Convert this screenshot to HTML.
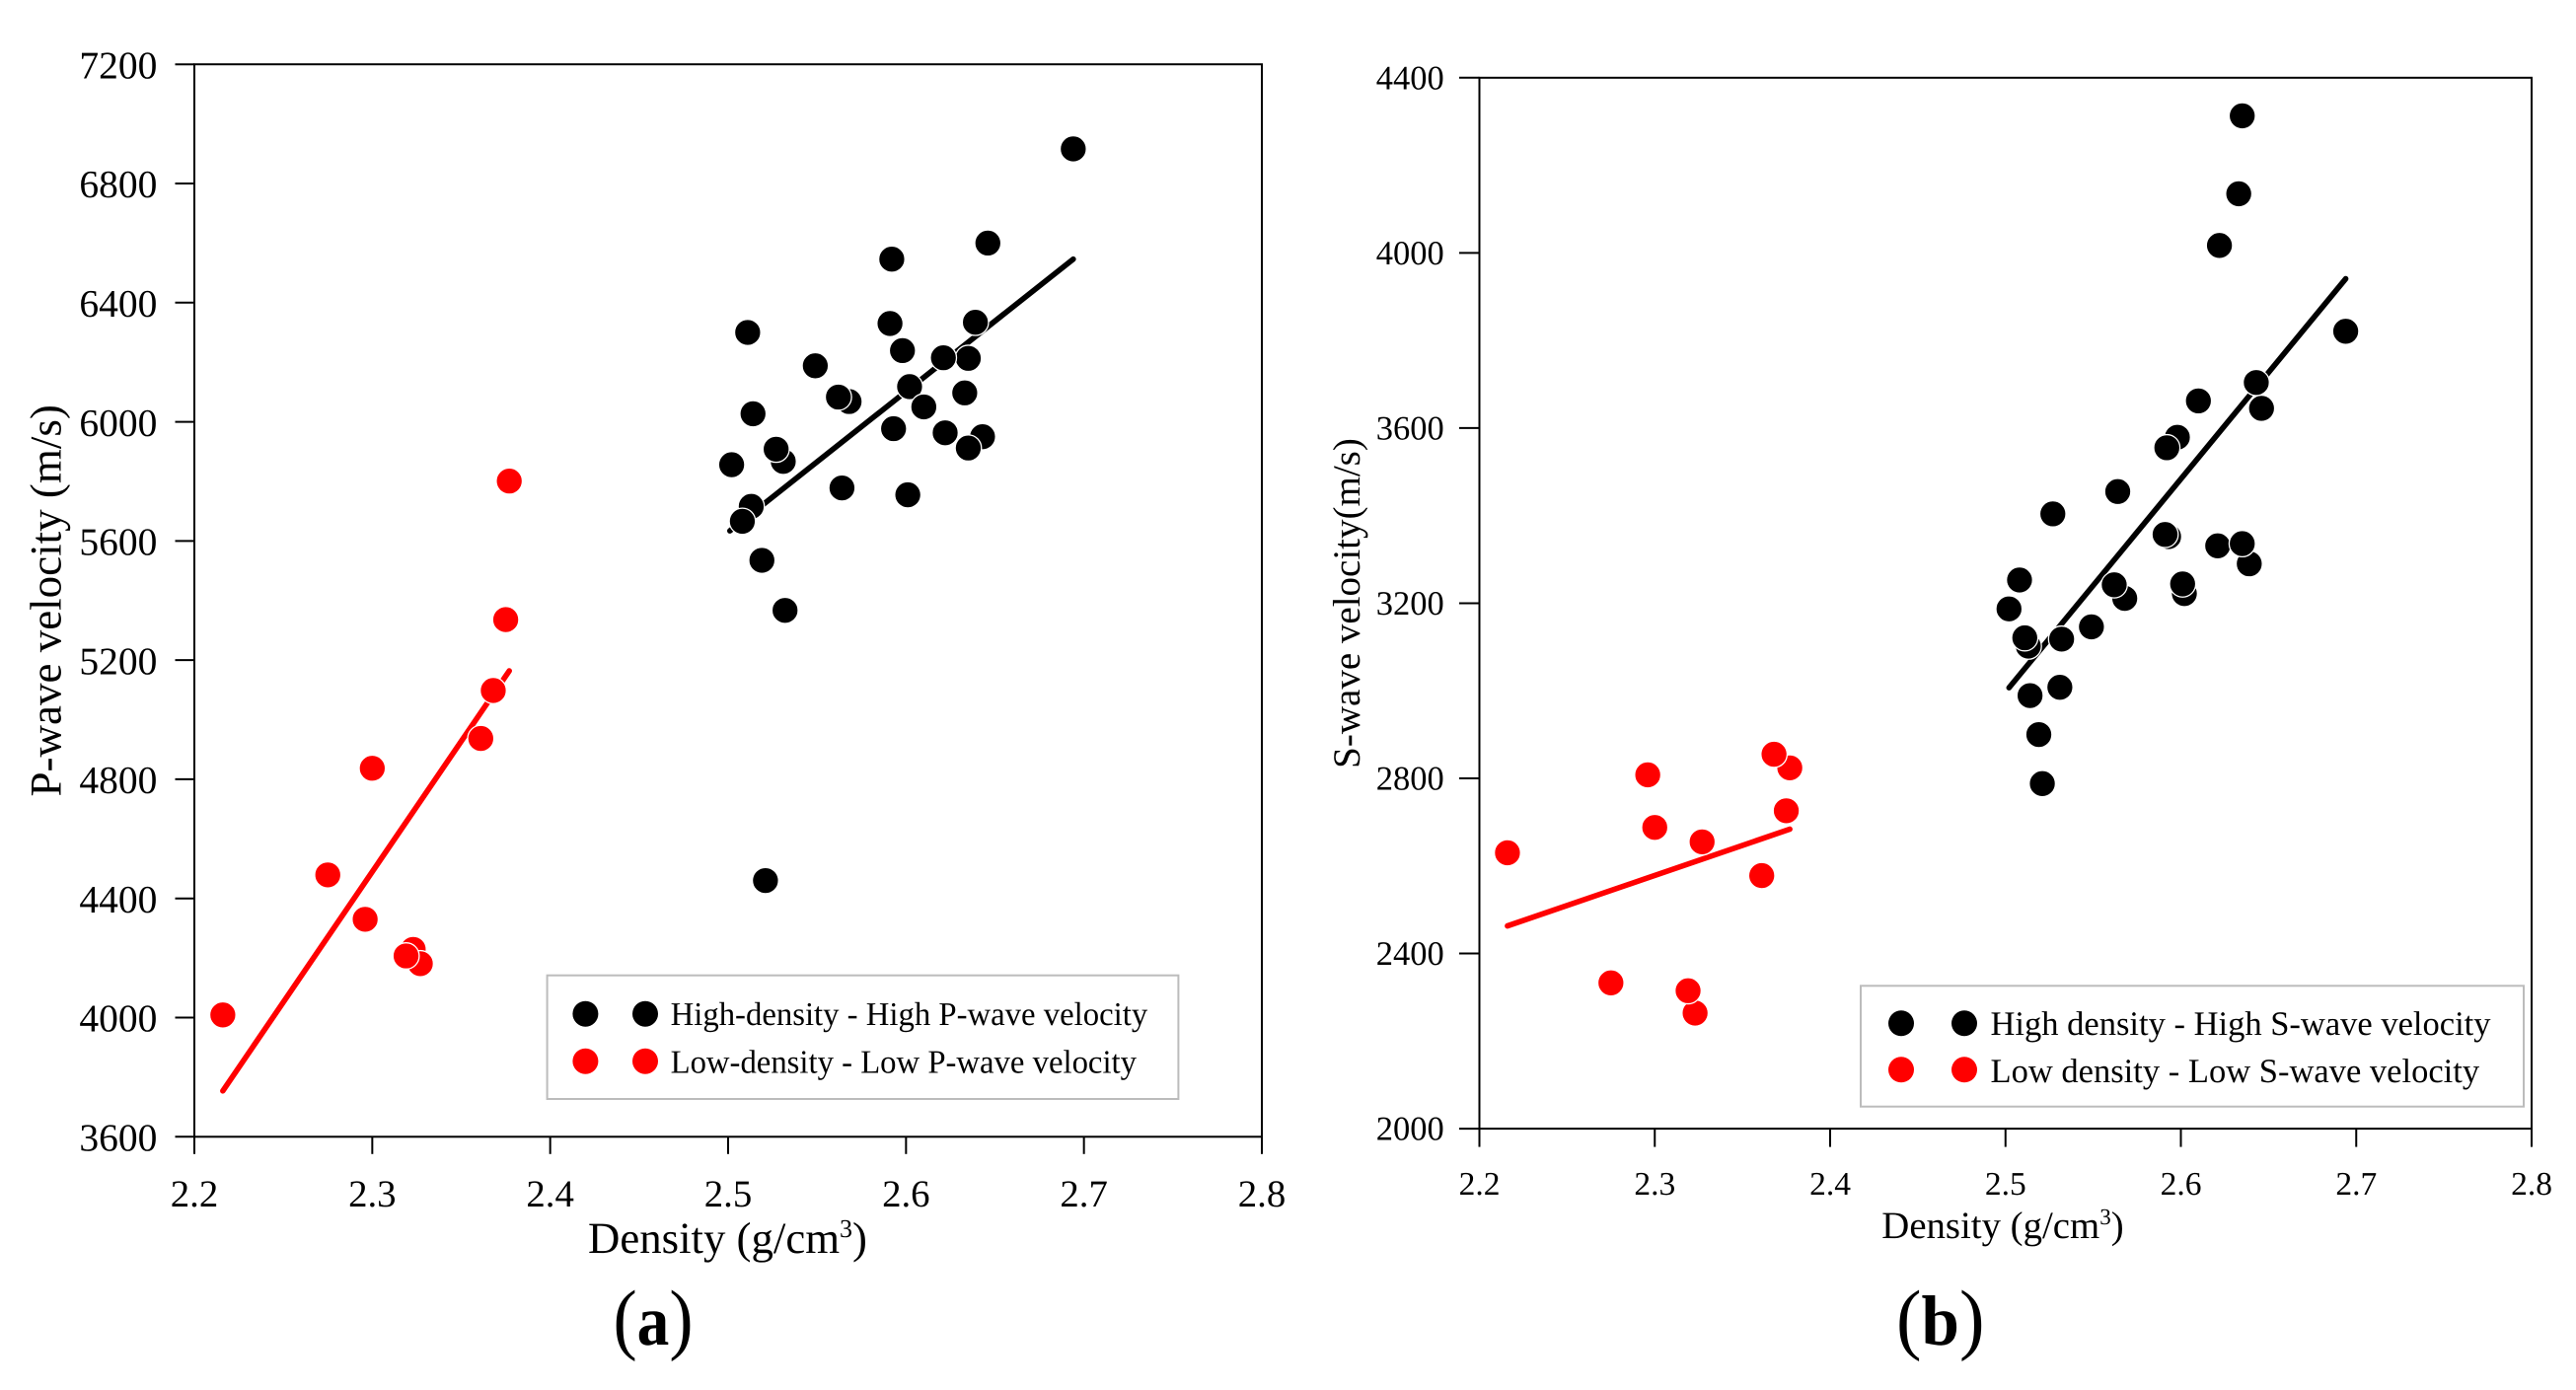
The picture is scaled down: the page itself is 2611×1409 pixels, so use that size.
<!DOCTYPE html>
<html lang="en">
<head>
<meta charset="utf-8">
<title>Density vs P-wave and S-wave velocity</title>
<style>
html,body{margin:0;padding:0;background:#fff;width:2611px;height:1409px;overflow:hidden}
svg{display:block;font-family:"Liberation Serif","Times New Roman",serif;text-rendering:geometricPrecision}
text{fill:#000}
</style>
</head>
<body>
<svg id="figure" xmlns="http://www.w3.org/2000/svg" width="2611" height="1409" viewBox="0 0 2611 1409">
  <rect x="0" y="0" width="2611" height="1409" fill="#fff"/>

  <g id="panel-a">
    <g id="panel-a-marks"></g>
    <text transform="translate(61.6 608.8) rotate(-90)" text-anchor="middle" font-size="45">P-wave velocity (m/s)</text>
    <text x="596" y="1270" font-size="44.8">Density (g/cm<tspan font-size="26" dy="-16">3</tspan><tspan dy="16">)</tspan></text>
    <g>
      <rect x="554.6" y="988.7" width="639.8" height="125.3" fill="#fff" stroke="#bcbcbc" stroke-width="2"/>
      <circle cx="593.4" cy="1027.7" r="13" fill="#000"/>
      <circle cx="654" cy="1027.7" r="13" fill="#000"/>
      <circle cx="593.4" cy="1075.7" r="13" fill="#f00"/>
      <circle cx="654" cy="1075.7" r="13" fill="#f00"/>
      <text x="679.6" y="1039" font-size="33.5" textLength="483.6" lengthAdjust="spacingAndGlyphs">High-density - High P-wave velocity</text>
      <text x="679.6" y="1087.7" font-size="33.5" textLength="472.4" lengthAdjust="spacingAndGlyphs">Low-density - Low P-wave velocity</text>
    </g>
    <text x="621.5" y="1363" font-size="80" textLength="81" lengthAdjust="spacingAndGlyphs">(<tspan font-size="72" font-weight="bold">a</tspan>)</text>
  </g>

  <g id="panel-b">
    <g id="panel-b-marks"></g>
    <text transform="translate(1378 611.5) rotate(-90)" text-anchor="middle" font-size="39">S-wave velocity(m/s)</text>
    <text x="1907.3" y="1255" font-size="38.8">Density (g/cm<tspan font-size="23" dy="-14">3</tspan><tspan dy="14">)</tspan></text>
    <g>
      <rect x="1886" y="999.3" width="672" height="122.4" fill="#fff" stroke="#bcbcbc" stroke-width="2"/>
      <circle cx="1927" cy="1037.3" r="13" fill="#000"/>
      <circle cx="1991" cy="1037.3" r="13" fill="#000"/>
      <circle cx="1927" cy="1084.3" r="13" fill="#f00"/>
      <circle cx="1991" cy="1084.3" r="13" fill="#f00"/>
      <text x="2017.5" y="1049" font-size="34.5" textLength="507" lengthAdjust="spacingAndGlyphs">High density - High S-wave velocity</text>
      <text x="2017.5" y="1097" font-size="34.5" textLength="495.6" lengthAdjust="spacingAndGlyphs">Low density - Low S-wave velocity</text>
    </g>
    <text x="1922" y="1363" font-size="80" textLength="89.5" lengthAdjust="spacingAndGlyphs">(<tspan font-size="72" font-weight="bold">b</tspan>)</text>
  </g>
</svg>

<script>
// Shared axis tick labels
const densityTicks = ["2.2", "2.3", "2.4", "2.5", "2.6", "2.7", "2.8"];
const pVelocityTicks = ["3600", "4000", "4400", "4800", "5200", "5600", "6000", "6400", "6800", "7200"];
const sVelocityTicks = ["2000", "2400", "2800", "3200", "3600", "4000", "4400"];

// Panel (a): high-density group
const aHighDensity = [2.694, 2.646, 2.592, 2.591, 2.639, 2.511, 2.598, 2.635, 2.621, 2.549, 2.602, 2.633, 2.568, 2.562, 2.610, 2.514, 2.593, 2.622, 2.643, 2.635, 2.531, 2.527, 2.502, 2.564, 2.601, 2.513, 2.508, 2.519, 2.532, 2.521];
const aHighVelocity = [6916, 6600, 6546, 6330, 6334, 6300, 6239, 6213, 6215, 6188, 6118, 6097, 6068, 6083, 6050, 6027, 5977, 5963, 5950, 5912, 5867, 5908, 5856, 5778, 5755, 5716, 5666, 5535, 5367, 4460];
const aHighFitDensity = [2.501, 2.694];
const aHighFitVelocity = [5634, 6546];

// Panel (a): low-density group
const aLowDensity = [2.377, 2.375, 2.368, 2.361, 2.300, 2.275, 2.296, 2.323, 2.327, 2.319, 2.216];
const aLowVelocity = [5801, 5336, 5098, 4937, 4837, 4479, 4330, 4229, 4181, 4207, 4009];
const aLowFitDensity = [2.216, 2.377];
const aLowFitVelocity = [3754, 5164];

// Panel (b): high-density group
const bHighDensity = [2.635, 2.633, 2.622, 2.694, 2.646, 2.643, 2.610, 2.598, 2.592, 2.564, 2.527, 2.593, 2.591, 2.621, 2.639, 2.635, 2.508, 2.602, 2.601, 2.568, 2.562, 2.549, 2.502, 2.532, 2.513, 2.511, 2.531, 2.514, 2.519, 2.521];
const bHighVelocity = [4313, 4135, 4017, 3821, 3645, 3704, 3662, 3579, 3555, 3455, 3404, 3352, 3357, 3331, 3290, 3336, 3253, 3222, 3244, 3211, 3242, 3146, 3187, 3118, 3102, 3121, 3008, 2989, 2900, 2788];
const bHighFitDensity = [2.502, 2.694];
const bHighFitVelocity = [3007, 3941];

// Panel (b): low-density group
const bLowDensity = [2.377, 2.368, 2.296, 2.375, 2.300, 2.327, 2.216, 2.361, 2.275, 2.323, 2.319];
const bLowVelocity = [2824, 2855, 2808, 2726, 2688, 2655, 2630, 2578, 2333, 2264, 2315];
const bLowFitDensity = [2.216, 2.377];
const bLowFitVelocity = [2463, 2684];

const SVG_NS = "http://www.w3.org/2000/svg";

function linearScale(d0, d1, r0, r1) {
  return function (v) { return r0 + (v - d0) * (r1 - r0) / (d1 - d0); };
}

function makeLine(parent, x1, y1, x2, y2, color, width, cap) {
  const el = document.createElementNS(SVG_NS, "line");
  el.setAttribute("x1", x1);
  el.setAttribute("y1", y1);
  el.setAttribute("x2", x2);
  el.setAttribute("y2", y2);
  el.setAttribute("stroke", color);
  el.setAttribute("stroke-width", width);
  el.setAttribute("stroke-linecap", cap);
  parent.appendChild(el);
  return el;
}

function makeLabel(parent, x, y, anchor, size, content) {
  const el = document.createElementNS(SVG_NS, "text");
  el.setAttribute("x", x);
  el.setAttribute("y", y);
  el.setAttribute("text-anchor", anchor);
  el.setAttribute("font-size", size);
  el.textContent = content;
  parent.appendChild(el);
  return el;
}

function drawAxes(parent, box, xScale, yScale, xTicks, yTicks) {
  const frame = document.createElementNS(SVG_NS, "rect");
  
  
  frame.setAttribute("x", box.left);
  frame.setAttribute("y", box.top);
  frame.setAttribute("width", box.right - box.left);
  frame.setAttribute("height", box.bottom - box.top);
  frame.setAttribute("fill", "none");
  frame.setAttribute("stroke", "#000");
  frame.setAttribute("stroke-width", "2");
  parent.appendChild(frame);

  xTicks.forEach(function (t) {
    const x = xScale(parseFloat(t));
    const mark = makeLine(parent, x, box.bottom, x, box.bottom + box.tick, "#000", 2, "butt");
    
    
    const label = makeLabel(parent, x, box.xLabelY, "middle", box.xFont, t);
    
    
  });

  yTicks.forEach(function (t) {
    const y = yScale(parseFloat(t));
    const mark = makeLine(parent, box.left - box.tick - 2, y, box.left, y, "#000", 2, "butt");
    
    
    const label = makeLabel(parent, box.yLabelX, y + box.yLabelDy, "end", box.yFont, t);
    
    
  });
}

function drawFit(parent, xs, ys, xScale, yScale, color, name) {
  const fit = makeLine(parent, xScale(xs[0]), yScale(ys[0]), xScale(xs[1]), yScale(ys[1]), color, 5.6, "round");
  
  
}

function drawPoints(parent, xs, ys, xScale, yScale, color, name) {
  xs.forEach(function (d, i) {
    const dot = document.createElementNS(SVG_NS, "circle");
    
    
    dot.setAttribute("cx", xScale(d));
    dot.setAttribute("cy", yScale(ys[i]));
    dot.setAttribute("r", 13.3);
    dot.setAttribute("fill", color);
    dot.setAttribute("stroke", "#fff");
    dot.setAttribute("stroke-width", 1.3);
    parent.appendChild(dot);
  });
}

// Panel (a)
(function () {
  const box = {left: 197, right: 1279, top: 65.2, bottom: 1152.3, tick: 17.5, xLabelY: 1223, xFont: 38.8, yLabelX: 159.4, yLabelDy: 14.2, yFont: 39.5};
  const g = document.getElementById("panel-a-marks");
  const xScale = linearScale(2.2, 2.8, box.left, box.right);
  const yScale = linearScale(3600, 7200, box.bottom, box.top);
  drawAxes(g, box, xScale, yScale, densityTicks, pVelocityTicks);
  drawFit(g, aHighFitDensity, aHighFitVelocity, xScale, yScale, "#000", "high-density-trend-line");
  drawFit(g, aLowFitDensity, aLowFitVelocity, xScale, yScale, "#f00", "low-density-trend-line");
  drawPoints(g, aHighDensity, aHighVelocity, xScale, yScale, "#000", "high-density-point");
  drawPoints(g, aLowDensity, aLowVelocity, xScale, yScale, "#f00", "low-density-point");
})();

// Panel (b)
(function () {
  const box = {left: 1499.5, right: 2566, top: 78.8, bottom: 1144.1, tick: 18.5, xLabelY: 1211, xFont: 33.5, yLabelX: 1463.8, yLabelDy: 11.5, yFont: 34.5};
  const g = document.getElementById("panel-b-marks");
  const xScale = linearScale(2.2, 2.8, box.left, box.right);
  const yScale = linearScale(2000, 4400, box.bottom, box.top);
  drawAxes(g, box, xScale, yScale, densityTicks, sVelocityTicks);
  drawFit(g, bHighFitDensity, bHighFitVelocity, xScale, yScale, "#000", "high-density-trend-line");
  drawFit(g, bLowFitDensity, bLowFitVelocity, xScale, yScale, "#f00", "low-density-trend-line");
  drawPoints(g, bHighDensity, bHighVelocity, xScale, yScale, "#000", "high-density-point");
  drawPoints(g, bLowDensity, bLowVelocity, xScale, yScale, "#f00", "low-density-point");
})();
</script>
</body>
</html>
